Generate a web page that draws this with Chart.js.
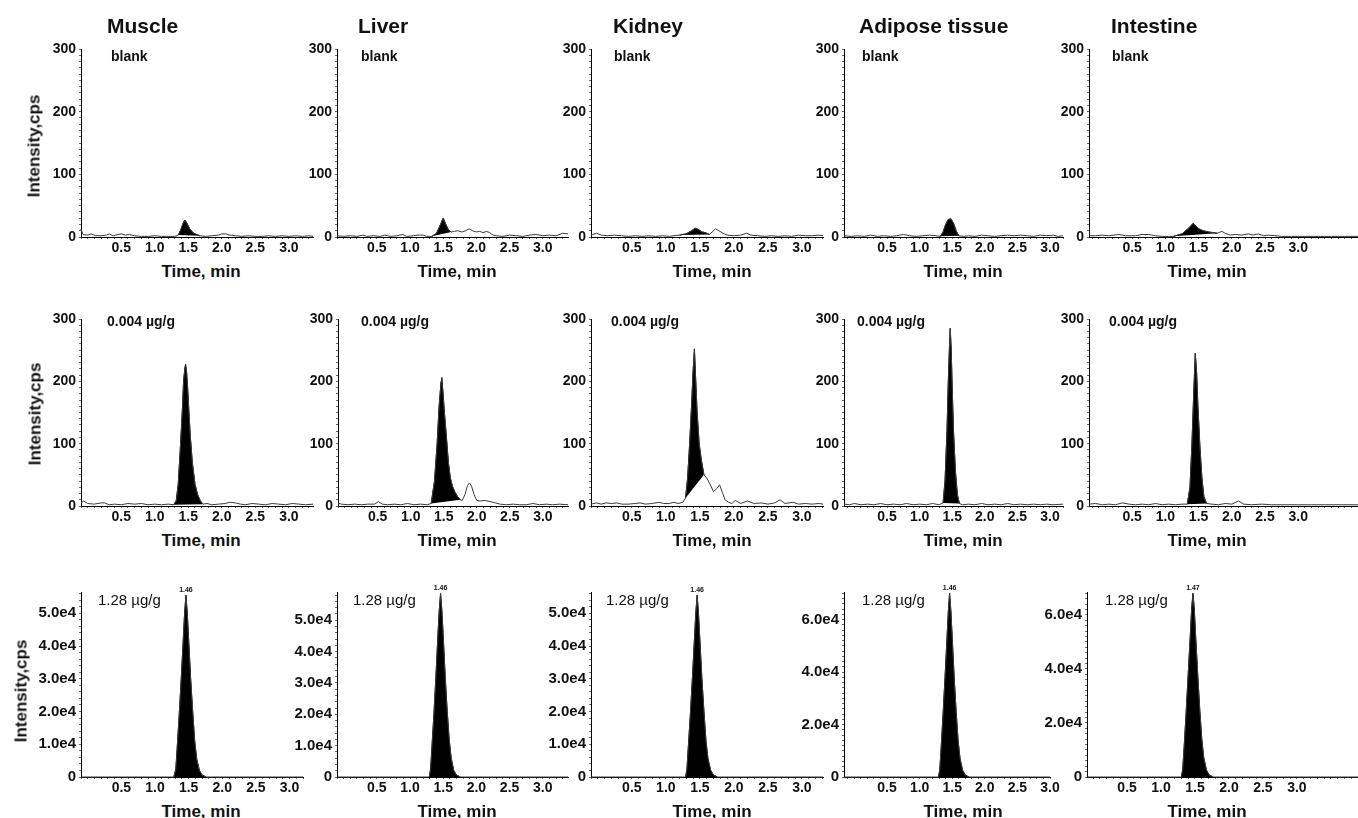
<!DOCTYPE html>
<html lang="en">
<head>
<meta charset="UTF-8">
<title>Chromatograms</title>
<script src="https://cdn.jsdelivr.net/npm/chart.js@4.4.1/dist/chart.umd.min.js"></script>
<style>
    body { margin: 0; background: #fff; }
    #page { position: relative; width: 1358px; height: 818px; overflow: hidden; font-family: "Liberation Sans", Arial, sans-serif; color: #111; }
    #page canvas { position: absolute; }
    .lbl { position: absolute; white-space: nowrap; line-height: 1; transform: translateY(-50%); font-weight: bold; }
    .tissue { font-size: 21px; }
    .note { font-size: 14px; }
    .conc { font-size: 15px; font-weight: normal; }
    .xt { font-size: 17px; transform: translate(-50%, -50%); }
    .yt { font-size: 17px; transform: translate(-50%, -50%) rotate(-90deg); }
</style>
</head>
<body>
<div id="page"></div>

<script>
    // ---- data: [time (min), intensity (cps)] ----
    var tissues = ['Muscle', 'Liver', 'Kidney', 'Adipose tissue', 'Intestine'];
    var rowNotes = ['blank', '0.004 µg/g', '1.28 µg/g'];

    var muscleBlank = [[-0.1,12],[-0.07,4],[0,3],[0.05,5],[0.12,2],[0.2,2],[0.28,3],[0.32,5],[0.38,2],[0.45,4],[0.5,5],[0.56,3],[0.62,4],[0.7,2],[0.8,1],[0.9,1],[1.0,2],[1.1,1],[1.2,1],[1.3,1],[1.35,3],[1.39,12],[1.43,24],[1.45,27],[1.48,22],[1.52,13],[1.57,7],[1.62,4],[1.67,2],[1.75,1],[1.85,2],[1.95,3],[2.0,5],[2.06,5],[2.12,3],[2.2,2],[2.3,1],[2.4,2],[2.5,1],[2.6,1],[2.7,2],[2.8,1],[2.9,2],[3.0,1],[3.1,2],[3.2,1],[3.3,2],[3.36,1]];
    var liverBlank = [[-0.1,2],[0,1],[0.1,2],[0.2,1],[0.29,3],[0.35,1],[0.45,2],[0.55,1],[0.62,3],[0.7,1],[0.8,2],[0.89,4],[0.95,1],[1.05,2],[1.12,3],[1.2,3],[1.25,1],[1.33,1],[1.4,6],[1.46,20],[1.5,30],[1.54,20],[1.58,11],[1.62,8],[1.67,9],[1.72,10],[1.78,8],[1.84,10],[1.89,13],[1.94,10],[2.0,8],[2.05,9],[2.1,7],[2.15,9],[2.2,7],[2.25,3],[2.3,2],[2.4,1],[2.5,3],[2.6,2],[2.7,1],[2.8,3],[2.9,4],[3.0,2],[3.1,3],[3.2,2],[3.3,6],[3.38,5]];
    var kidneyBlank = [[-0.1,3],[-0.02,6],[0.05,3],[0.15,2],[0.25,3],[0.35,2],[0.45,1],[0.55,2],[0.65,1],[0.75,2],[0.85,1],[0.95,2],[1.05,1],[1.12,2],[1.2,3],[1.3,5],[1.38,10],[1.43,14],[1.48,12],[1.53,8],[1.58,7],[1.64,4],[1.68,8],[1.73,13],[1.78,10],[1.84,6],[1.9,3],[2.0,2],[2.1,3],[2.19,6],[2.25,3],[2.35,2],[2.45,1],[2.55,2],[2.65,1],[2.75,2],[2.85,1],[2.95,3],[3.05,2],[3.15,2],[3.25,3],[3.31,2]];
    var adiposeBlank = [[-0.16,2],[-0.05,1],[0.05,2],[0.15,1],[0.25,3],[0.35,1],[0.45,2],[0.55,1],[0.65,2],[0.75,4],[0.85,2],[0.95,1],[1.05,2],[1.15,3],[1.25,2],[1.32,1],[1.36,8],[1.4,20],[1.44,28],[1.48,29],[1.52,22],[1.56,10],[1.6,2],[1.68,1],[1.75,2],[1.85,1],[1.95,3],[2.05,2],[2.15,1],[2.25,2],[2.35,3],[2.45,2],[2.55,3],[2.65,2],[2.75,1],[2.85,3],[2.95,2],[3.05,3],[3.12,1],[3.2,2]];
    var intestineBlank = [[-0.15,2],[-0.05,2],[0.05,3],[0.15,2],[0.3,4],[0.4,2],[0.55,2],[0.65,4],[0.75,4],[0.85,2],[0.95,1],[1.05,1],[1.12,1],[1.25,5],[1.35,14],[1.42,22],[1.47,16],[1.52,12],[1.57,10],[1.65,8],[1.72,7],[1.78,6],[1.85,9],[1.9,6],[1.98,3],[2.05,4],[2.15,3],[2.25,5],[2.32,3],[2.4,5],[2.48,2],[2.55,3],[2.65,2],[2.75,1],[2.9,1],[3.1,1],[3.3,1],[3.5,1],[3.7,1],[3.9,1]];

    var muscleLow = [[-0.1,5],[-0.06,8],[0.0,4],[0.1,3],[0.2,5],[0.25,5],[0.32,2],[0.4,3],[0.5,2],[0.6,4],[0.7,3],[0.8,4],[0.9,2],[1.0,3],[1.1,2],[1.2,3],[1.28,2],[1.32,8],[1.35,35],[1.38,90],[1.41,150],[1.43,200],[1.45,222],[1.46,227],[1.475,215],[1.49,190],[1.51,150],[1.53,112],[1.56,70],[1.6,35],[1.64,18],[1.68,8],[1.72,3],[1.78,4],[1.85,2],[1.95,3],[2.05,4],[2.12,6],[2.2,5],[2.28,3],[2.35,2],[2.45,4],[2.55,3],[2.65,2],[2.75,4],[2.85,3],[2.95,2],[3.05,4],[3.15,3],[3.25,2],[3.36,3]];
    var liverLow = [[-0.1,5],[-0.05,3],[0.05,2],[0.15,3],[0.25,2],[0.35,3],[0.45,3],[0.51,7],[0.57,3],[0.65,2],[0.75,3],[0.85,2],[0.95,4],[1.05,2],[1.15,3],[1.25,2],[1.31,4],[1.36,40],[1.4,100],[1.43,160],[1.46,200],[1.47,206],[1.49,180],[1.51,150],[1.54,111],[1.57,70],[1.6,45],[1.63,32],[1.67,22],[1.71,15],[1.75,10],[1.78,9],[1.82,18],[1.86,33],[1.89,37],[1.92,32],[1.96,18],[2.0,9],[2.05,8],[2.12,9],[2.2,7],[2.28,5],[2.35,3],[2.45,2],[2.55,3],[2.65,2],[2.75,2],[2.85,4],[2.95,2],[3.05,3],[3.15,2],[3.25,3],[3.38,2]];
    var kidneyLow = [[-0.1,3],[-0.02,5],[0.05,3],[0.12,5],[0.2,4],[0.28,5],[0.35,3],[0.45,3],[0.55,4],[0.62,5],[0.7,3],[0.8,4],[0.9,6],[0.97,4],[1.05,4],[1.12,6],[1.18,4],[1.25,6],[1.29,13],[1.32,45],[1.35,100],[1.38,165],[1.4,215],[1.42,252],[1.44,200],[1.46,150],[1.49,100],[1.52,75],[1.56,50],[1.6,45],[1.65,35],[1.7,23],[1.75,28],[1.79,34],[1.83,22],[1.87,10],[1.92,6],[1.97,4],[2.02,9],[2.1,4],[2.2,8],[2.3,4],[2.4,5],[2.5,3],[2.6,5],[2.68,10],[2.75,4],[2.87,6],[2.95,3],[3.05,4],[3.15,3],[3.25,4],[3.31,3]];
    var adiposeLow = [[-0.16,3],[-0.08,2],[0.0,4],[0.1,2],[0.2,3],[0.3,2],[0.4,4],[0.5,2],[0.6,3],[0.7,2],[0.8,4],[0.9,2],[1.0,3],[1.1,2],[1.2,4],[1.3,2],[1.36,5],[1.39,40],[1.42,120],[1.44,200],[1.46,262],[1.47,285],[1.485,250],[1.5,190],[1.52,120],[1.55,55],[1.58,18],[1.61,4],[1.66,2],[1.75,3],[1.85,2],[1.95,4],[2.05,2],[2.15,3],[2.25,2],[2.35,4],[2.45,2],[2.55,3],[2.65,2],[2.75,3],[2.85,2],[2.95,3],[3.05,2],[3.2,3]];
    var intestineLow = [[-0.15,3],[-0.05,4],[0.05,2],[0.15,3],[0.25,2],[0.35,5],[0.45,3],[0.55,2],[0.65,3],[0.75,2],[0.85,4],[0.95,2],[1.05,3],[1.15,2],[1.25,3],[1.33,3],[1.37,30],[1.4,100],[1.43,190],[1.45,245],[1.47,215],[1.49,160],[1.52,95],[1.55,45],[1.58,15],[1.62,4],[1.7,3],[1.8,2],[1.9,4],[2.0,3],[2.1,8],[2.18,3],[2.3,2],[2.45,3],[2.6,2],[2.8,2],[3.0,2],[3.2,2],[3.4,2],[3.6,2],[3.9,2]];

    var muscleHigh = [[-0.1,0],[1.28,0],[1.31,2500],[1.33,9000],[1.36,19000],[1.39,30000],[1.42,42000],[1.44,50000],[1.46,55500],[1.48,50000],[1.5,42000],[1.53,30000],[1.56,20000],[1.59,11000],[1.62,5500],[1.66,2000],[1.7,600],[1.76,0],[3.2,0]];
    var liverHigh = [[-0.1,0],[1.29,0],[1.31,2500],[1.33,9500],[1.36,20000],[1.39,32000],[1.42,45000],[1.44,53000],[1.46,58500],[1.48,53000],[1.5,45000],[1.53,32000],[1.56,21000],[1.59,12000],[1.62,6000],[1.66,2000],[1.7,600],[1.76,0],[3.38,0]];
    var kidneyHigh = [[-0.1,0],[1.29,0],[1.31,2400],[1.33,9000],[1.36,19000],[1.39,30000],[1.42,42000],[1.44,50000],[1.46,55500],[1.48,50000],[1.5,42000],[1.53,30000],[1.56,20000],[1.59,11000],[1.62,5500],[1.66,2000],[1.7,600],[1.76,0],[3.31,0]];
    var adiposeHigh = [[-0.16,0],[1.29,0],[1.31,3000],[1.33,11000],[1.36,24000],[1.39,38000],[1.42,53000],[1.44,63000],[1.46,70000],[1.48,63000],[1.5,53000],[1.53,38000],[1.56,25000],[1.59,14000],[1.62,7000],[1.66,2500],[1.7,700],[1.76,0],[3.0,0]];
    var intestineHigh = [[-0.09,0],[1.3,0],[1.32,3000],[1.34,11000],[1.37,24000],[1.4,38000],[1.43,52000],[1.45,62000],[1.47,68000],[1.49,62000],[1.51,52000],[1.54,38000],[1.57,25000],[1.6,14000],[1.63,7000],[1.67,2500],[1.71,700],[1.77,0],[3.9,0]];

    var traces = [
        [muscleBlank, liverBlank, kidneyBlank, adiposeBlank, intestineBlank],
        [muscleLow, liverLow, kidneyLow, adiposeLow, intestineLow],
        [muscleHigh, liverHigh, kidneyHigh, adiposeHigh, intestineHigh]
    ];

    // integrated peak windows (min)
    var blankWindows = [[1.35,1.67],[1.33,1.62],[1.2,1.64],[1.32,1.6],[1.12,1.78]];
    var lowWindows = [[1.28,1.72],[1.31,1.75],[1.29,1.56],[1.36,1.61],[1.33,1.62]];
    var highWindows = [[1.28,1.76],[1.29,1.76],[1.29,1.76],[1.29,1.76],[1.3,1.77]];
    var windows = [blankWindows, lowWindows, highWindows];

    // apex retention times printed on the 1.28 µg/g runs
    var apexTimes = [1.46, 1.46, 1.46, 1.46, 1.47];

    // y axes
    var lowMax = 300;
    var highMax = [56500, 59000, 56500, 70500, 68500];
    var highLabelStep = [10000, 10000, 10000, 20000, 20000];

    // time axes
    var timeMin = [[-0.1,-0.1,-0.1,-0.16,-0.15], [-0.1,-0.1,-0.1,-0.16,-0.15], [-0.1,-0.1,-0.1,-0.16,-0.09]];
    var timeMax = [[3.36,3.38,3.31,3.2,3.9], [3.36,3.38,3.31,3.2,3.9], [3.2,3.38,3.31,3.0,3.9]];

    // ---- layout (px) ----
    var axisLeft = [[81,337,591,844,1089], [81,338,591,844,1089], [81,337,591,844,1087]];
    var axisRight = [[313,568,823,1063,1358], [313,568,823,1063,1358], [303,568,823,1050,1358]];
    var plotTop = [49, 319, 592];
    var plotBottom = [237, 506, 777];
    var titleLeft = [107, 358, 613, 859, 1111];
    var noteLeft = [[111,361,614,862,1112], [107,361,611,857,1109], [98,353,606,862,1105]];
    var noteY = [56, 321, 599];
    var timeTitleX = [201, 457, 712, 963, 1207];
    var intensityX = [34, 35, 21];
    var intensityY = [146, 414, 691];

    var page = document.getElementById('page');
    Chart.defaults.font.family = '"Liberation Sans", Arial, sans-serif';
    Chart.defaults.color = '#111';

    function addText(cls, text, left, top) {
        var d = document.createElement('div');
        d.className = 'lbl ' + cls;
        d.textContent = text;
        d.style.left = left + 'px';
        d.style.top = top + 'px';
        page.appendChild(d);
    }

    // evenly spaced ticks, built by hand so chart.js does not stretch the step
    function stepTicks(step) {
        return function (s) {
            var t = [];
            var k0 = Math.ceil(s.min / step - 1e-9), k1 = Math.floor(s.max / step + 1e-9);
            for (var k = k0; k <= k1; k++) t.push({value: Math.round(k * step * 1000) / 1000});
            s.ticks = t;
        };
    }

    var apexLabel = {
        id: 'apexLabel',
        afterDatasetsDraw: function (chart, args, opts) {
            if (opts.time == null) return;
            var pts = chart.data.datasets[1].data;
            var top = pts.reduce(function (a, p) { return p.y > a.y ? p : a; });
            var x = chart.scales.x.getPixelForValue(opts.time);
            var y = chart.scales.y.getPixelForValue(top.y);
            var ctx = chart.ctx;
            ctx.save();
            ctx.font = 'bold 7px "Liberation Sans", Arial, sans-serif';
            ctx.fillStyle = '#111';
            ctx.textAlign = 'center';
            ctx.textBaseline = 'bottom';
            ctx.fillText(opts.time.toFixed(2), x, y - 2);
            ctx.restore();
        }
    };

    function makePanel(r, c) {
        var LW = 70, PAD_T = 12, PAD_R = 14, BH = 24;
        var plotW = axisRight[r][c] - axisLeft[r][c];
        var plotH = plotBottom[r] - plotTop[r];
        var cv = document.createElement('canvas');
        cv.width = LW + plotW + PAD_R;
        cv.height = PAD_T + plotH + BH;
        cv.style.left = (axisLeft[r][c] - LW) + 'px';
        cv.style.top = (plotTop[r] - PAD_T) + 'px';
        page.appendChild(cv);

        var win = windows[r][c];
        var line = traces[r][c].map(function (p) { return {x: p[0], y: p[1]}; });
        var peak = line.filter(function (p) { return p.x >= win[0] - 1e-9 && p.x <= win[1] + 1e-9; })
            .map(function (p) { return {x: p.x, y: p.y}; });
        var base = [{x: peak[0].x, y: peak[0].y}, {x: peak[peak.length - 1].x, y: peak[peak.length - 1].y}];

        var high = r === 2;
        var yMax = high ? highMax[c] : lowMax;
        var yStep = high ? 2000 : 10;
        var labelStep = high ? highLabelStep[c] : 100;

        new Chart(cv, {
            type: 'line',
            data: {
                datasets: [{
                    data: line,
                    borderColor: '#3a3a3a',
                    borderWidth: 1,
                    fill: false,
                    clip: 4
                }, {
                    data: peak,
                    borderColor: '#000',
                    backgroundColor: '#000',
                    borderWidth: 1,
                    fill: 2,
                    clip: 4
                }, {
                    data: base,
                    borderColor: 'rgba(0,0,0,0)',
                    borderWidth: 0,
                    fill: false,
                    clip: 4
                }]
            },
            options: {
                responsive: false,
                animation: false,
                devicePixelRatio: 1,
                layout: { padding: { top: PAD_T, right: PAD_R, left: 0, bottom: 0 } },
                elements: { point: { radius: 0, hoverRadius: 0 }, line: { tension: 0 } },
                plugins: {
                    legend: { display: false },
                    tooltip: { enabled: false },
                    apexLabel: { time: high ? apexTimes[c] : null }
                },
                scales: {
                    x: {
                        type: 'linear',
                        min: timeMin[r][c],
                        max: timeMax[r][c],
                        afterBuildTicks: stepTicks(0.1),
                        afterFit: function (s) { s.height = BH; },
                        border: { color: '#000', width: 1 },
                        grid: { drawOnChartArea: false, tickLength: 2, color: '#666' },
                        ticks: {
                            autoSkip: false,
                            maxRotation: 0,
                            padding: 1,
                            font: { size: 14, weight: 'bold' },
                            callback: function (v) {
                                var h = Math.round(v * 2);
                                if (Math.abs(v * 2 - h) > 1e-6 || h < 1 || h > 6) return '';
                                return (h / 2).toFixed(1);
                            }
                        }
                    },
                    y: {
                        min: 0,
                        max: yMax,
                        afterBuildTicks: stepTicks(yStep),
                        afterFit: function (s) { s.width = LW; },
                        border: { color: '#000', width: 1 },
                        grid: { drawOnChartArea: false, tickLength: 2, color: '#666' },
                        ticks: {
                            autoSkip: false,
                            padding: 3,
                            font: { size: high ? 15 : 14, weight: 'bold' },
                            callback: function (v) {
                                var k = Math.round(v / labelStep);
                                if (Math.abs(v / labelStep - k) > 1e-6) return '';
                                if (k === 0) return '0';
                                return high ? (v / 10000).toFixed(1) + 'e4' : String(v);
                            }
                        }
                    }
                }
            },
            plugins: high ? [apexLabel] : []
        });
    }

    for (var r = 0; r < 3; r++) {
        for (var c = 0; c < 5; c++) {
            makePanel(r, c);
            addText(r === 2 ? 'conc' : 'note', rowNotes[r], noteLeft[r][c], noteY[r]);
            addText('xt', 'Time, min', timeTitleX[c], plotBottom[r] + 33.5);
        }
        addText('yt', 'Intensity,cps', intensityX[r], intensityY[r]);
    }
    for (var i = 0; i < tissues.length; i++) {
        addText('tissue', tissues[i], titleLeft[i], 24.5);
    }
</script>
</body>
</html>
